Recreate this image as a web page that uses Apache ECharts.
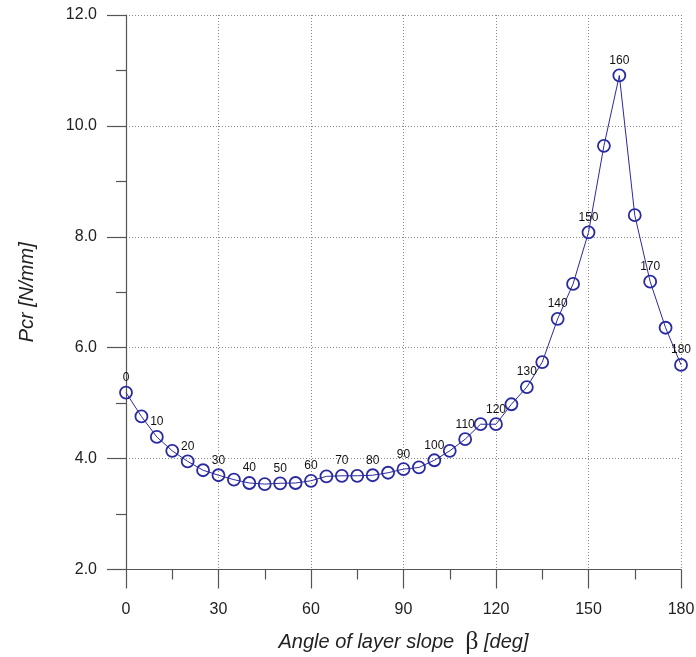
<!DOCTYPE html>
<html>
<head>
<meta charset="utf-8">
<script src="https://cdn.jsdelivr.net/npm/echarts@6/dist/echarts.min.js"></script>
<style>
html,body{margin:0;padding:0;background:#fff;}
#chart{width:696px;height:657px;}
</style>
</head>
<body>
<div id="chart"></div>
<script>
// Data
const angles = [0,5,10,15,20,25,30,35,40,45,50,55,60,65,70,75,80,85,90,95,100,105,110,115,120,125,130,135,140,145,150,155,160,165,170,175,180];
const pcrValues = [5.19,4.76,4.39,4.14,3.95,3.79,3.70,3.62,3.56,3.54,3.555,3.56,3.60,3.68,3.69,3.69,3.70,3.745,3.81,3.84,3.97,4.14,4.35,4.62,4.62,4.98,5.29,5.74,6.52,7.15,8.08,9.64,10.91,8.39,7.19,6.36,5.69];
const xTicks = [0,30,60,90,120,150,180];
const yTicks = [2.0,4.0,6.0,8.0,10.0,12.0];

const blue = '#2a2aa0';
const seriesData = angles.map((a, i) => ({
  value: [a, pcrValues[i]],
  label: { show: a % 10 === 0 }
}));

const chart = echarts.init(document.getElementById('chart'));
chart.setOption({
  animation: false,
  backgroundColor: '#fff',
  grid: { left: 126, top: 15, right: 15, bottom: 87.5, containLabel: false, outerBoundsMode: 'none' },
  xAxis: {
    type: 'value',
    min: xTicks[0], max: xTicks[xTicks.length-1], interval: 30,
    name: 'Angle of layer slope  {b|β} {n|[deg]}',
    nameLocation: 'middle',
    nameGap: 60,
    nameTextStyle: {
      fontFamily: 'Liberation Sans', fontStyle: 'italic', fontSize: 20, color: '#222',
      rich: {
        b: { fontFamily: 'Liberation Serif', fontStyle: 'normal', fontSize: 26, color: '#222' },
        n: { fontFamily: 'Liberation Sans', fontStyle: 'italic', fontSize: 20, color: '#222' }
      }
    },
    axisLine: { show: true, onZero: false, lineStyle: { color: '#555', width: 1.2 } },
    axisTick: { show: true, inside: false, length: 19, lineStyle: { color: '#555', width: 1.2 } },
    minorTick: { show: true, splitNumber: 2, length: 10, lineStyle: { color: '#555', width: 1.2 } },
    axisLabel: { margin: 32, fontFamily: 'Liberation Sans', fontSize: 16, color: '#222',
      formatter: v => xTicks.includes(v) ? String(v) : '' },
    splitLine: { show: true, lineStyle: { type: [1, 2], color: '#888', width: 1 } }
  },
  yAxis: {
    type: 'value',
    min: yTicks[0], max: yTicks[yTicks.length-1], interval: 2,
    name: 'Pcr [N/mm]',
    nameLocation: 'middle',
    nameGap: 89,
    nameTextStyle: { fontFamily: 'Liberation Sans', fontStyle: 'italic', fontSize: 20, color: '#222' },
    axisLine: { show: true, onZero: false, lineStyle: { color: '#555', width: 1.2 } },
    axisTick: { show: true, inside: false, length: 19, lineStyle: { color: '#555', width: 1.2 } },
    minorTick: { show: true, splitNumber: 2, length: 10, lineStyle: { color: '#555', width: 1.2 } },
    axisLabel: { margin: 29, fontFamily: 'Liberation Sans', fontSize: 16, color: '#222',
      formatter: v => v.toFixed(1) },
    splitLine: { show: true, lineStyle: { type: [1, 2], color: '#888', width: 1 } }
  },
  series: [{
    type: 'line',
    data: seriesData,
    symbol: 'circle',
    symbolSize: 12,
    showAllSymbol: true,
    lineStyle: { color: blue, width: 1 },
    itemStyle: { color: 'rgba(255,255,255,0)', borderColor: blue, borderWidth: 1.8 },
    label: {
      show: false,
      position: 'top',
      distance: 2,
      fontFamily: 'Liberation Sans',
      fontSize: 12,
      color: '#111',
      formatter: p => String(p.value[0])
    },
    z: 3
  }]
});
</script>
</body>
</html>
